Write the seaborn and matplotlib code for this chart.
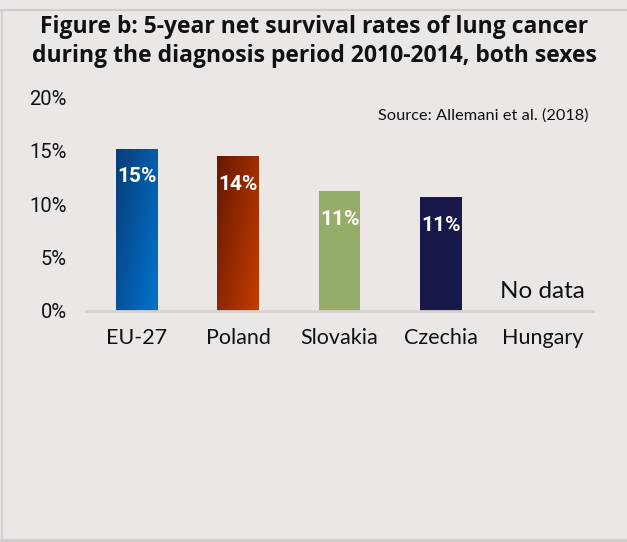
import numpy as np
import pandas as pd
import matplotlib
matplotlib.use("Agg")
import matplotlib.pyplot as plt
from matplotlib.colors import to_rgb
from matplotlib.lines import Line2D
import seaborn as sns

# ---- data ----
countries = ["EU-27", "Poland", "Slovakia", "Czechia", "Hungary"]
bar_countries = ["EU-27", "Poland", "Slovakia", "Czechia"]
survival = [15.2, 14.5, 11.2, 10.65]
value_labels = ["15%", "14%", "11%", "11%"]
y_ticks = [0, 5, 10, 15, 20]
y_tick_labels = ["0%", "5%", "10%", "15%", "20%"]
title_lines = ["Figure b: 5-year net survival rates of lung cancer",
               "during the diagnosis period 2010-2014, both sexes"]
source_text = "Source: Allemani et al. (2018)"
no_data_text = "No data"

# ---- styling ----
BG = "#EBE7E4"
bar_colors = {"EU-27": "#0059A8", "Poland": "#9A2A00",
              "Slovakia": "#96AD6A", "Czechia": "#18184A"}
gradients = {"EU-27": ("#083C78", "#0074CE"),
             "Poland": ("#661800", "#C63D00")}

sns.set_theme(style="white")
plt.rcParams["font.family"] = ["Lato", "DejaVu Sans"]
NUM = ["Roboto", "Lato", "DejaVu Sans"]
TITLE = ["Open Sans", "Lato", "DejaVu Sans"]

W, H = 627, 542
fig = plt.figure(figsize=(W / 100, H / 100), dpi=100, facecolor=BG)
ax_left, ax_right, ax_bottom, ax_top = 86, 593, 311, 97.5
ax = fig.add_axes([ax_left / W, 1 - ax_bottom / H,
                   (ax_right - ax_left) / W, (ax_bottom - ax_top) / H])
ax.set_facecolor(BG)

df = pd.DataFrame({"country": bar_countries, "survival": survival})
sns.barplot(data=df, x="country", y="survival", order=countries,
            hue="country", palette=bar_colors, legend=False,
            width=0.41, ax=ax, saturation=1, linewidth=0)

ax.set_xlim(-0.5, 4.5)
ax.set_ylim(0, 20)

# gradient fills
patch_by_country = {}
for p in ax.patches:
    cx = p.get_x() + p.get_width() / 2
    idx = int(round(cx))
    patch_by_country[countries[idx]] = p

for c, (c0, c1) in gradients.items():
    p = patch_by_country[c]
    x0, y0 = p.get_x(), p.get_y()
    x1, y1 = x0 + p.get_width(), y0 + p.get_height()
    n = 200
    u = np.linspace(0, 1, n)[None, :]
    v = np.linspace(0, 1, n)[:, None]  # 0 at top
    t = (u * 0.6 + v * 0.4)
    a, b = np.array(to_rgb(c0)), np.array(to_rgb(c1))
    img = a[None, None, :] * (1 - t[..., None]) + b[None, None, :] * t[..., None]
    im = ax.imshow(img, extent=(x0, x1, y0, y1), origin="upper",
                   aspect="auto", zorder=p.get_zorder() + 0.1,
                   interpolation="bilinear")
    im.set_clip_path(p)

ax.set_xlim(-0.5, 4.5)
ax.set_ylim(0, 20)

# value labels
for c, lab in zip(bar_countries, value_labels):
    p = patch_by_country[c]
    ax.annotate(lab, (p.get_x() + p.get_width() / 2, p.get_height()),
                xytext=(0, -24), textcoords="offset points",
                ha="center", va="baseline", color="white",
                fontsize=15, fontweight="bold", family=NUM, zorder=5)

ax.text(4, 1.2, no_data_text, ha="center", va="baseline",
        fontsize=17.5, color="#111111")

# axes styling
ax.set_yticks(y_ticks)
ax.set_yticklabels(y_tick_labels, family=NUM, fontsize=14.5, color="#111111")
ax.tick_params(axis="y", length=0, pad=14)
ax.tick_params(axis="x", length=0, pad=12, labelsize=15.5, labelcolor="#111111")
ax.set_xlabel("")
ax.set_ylabel("")
for s in ["left", "top", "right"]:
    ax.spines[s].set_visible(False)
ax.spines["bottom"].set_color("#D6D3D0")
ax.spines["bottom"].set_linewidth(2)

# title
fig.text(314 / W, 1 - 33 / H, title_lines[0], ha="center", va="baseline",
         fontsize=16.5, fontweight="bold", color="#111111", family=TITLE)
fig.text(314 / W, 1 - 62 / H, title_lines[1], ha="center", va="baseline",
         fontsize=16.5, fontweight="bold", color="#111111", family=TITLE)

# source
fig.text(588 / W, 1 - 120 / H, source_text, ha="right", va="baseline",
         fontsize=11.8, color="#111111")

# frame lines
frame_c = "#CFCDCB"
fig.add_artist(Line2D([0, 1], [1 - 10 / H] * 2, color=frame_c, lw=1.5,
                      transform=fig.transFigure))
fig.add_artist(Line2D([1.5 / W] * 2, [1 - 539.5 / H, 1 - 10 / H], color=frame_c,
                      lw=1.2, transform=fig.transFigure))
fig.add_artist(Line2D([0, 1], [1 - 539.5 / H] * 2, color=frame_c, lw=2,
                      transform=fig.transFigure))

fig.savefig("out.png", dpi=100, facecolor=BG)
